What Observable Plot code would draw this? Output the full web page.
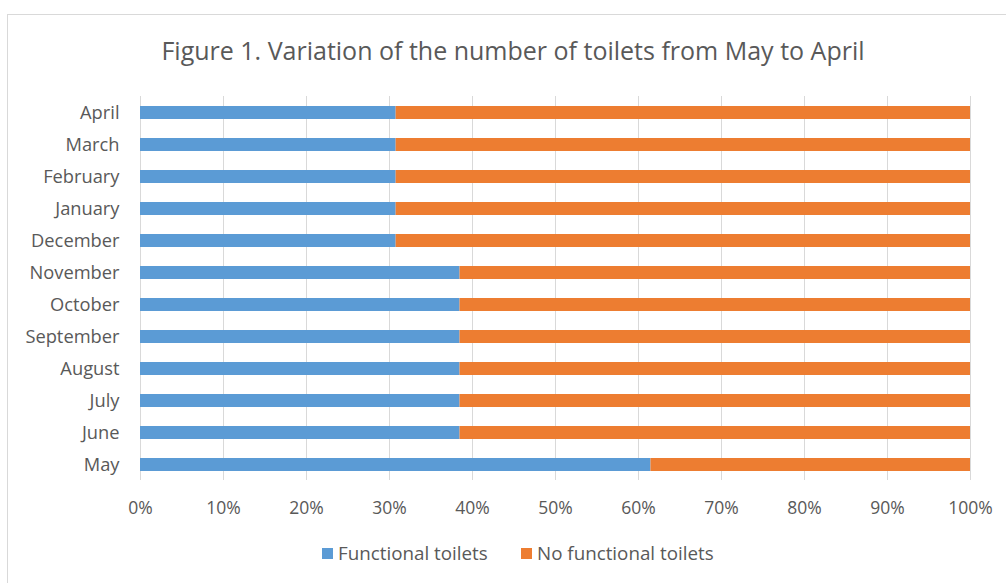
<!DOCTYPE html>
<html>
<head>
<meta charset="utf-8">
<script src="https://cdn.jsdelivr.net/npm/d3@7"></script>
<script src="https://cdn.jsdelivr.net/npm/@observablehq/plot@0.6"></script>
<style>
  body { margin: 0; background: #fff; }
  #wrap { position: relative; width: 1006px; height: 583px; overflow: hidden; font-family: "Open Sans", sans-serif; color: #595959; }
  #frame { position: absolute; left: 7px; top: 14px; width: 1010px; height: 600px; border: 1px solid #d9d9d9; box-sizing: border-box; }
  #title { position: absolute; left: 0; width: 1026px; top: 33px; text-align: center; font-size: 25px; color: #595959; }
  #chart { position: absolute; left: 0; top: 0; }
  .leg { position: absolute; top: 540px; font-size: 18.8px; display: flex; align-items: center; white-space: nowrap; }
  .sw { width: 11px; height: 11px; margin-right: 5px; }
</style>
</head>
<body>
<div id="wrap">
  <div id="frame"></div>
  <div id="title">Figure 1. Variation of the number of toilets from May to April</div>
  <div id="chart"></div>
  <div id="legend"></div>
</div>
<script>
const months = ["May", "June", "July", "August", "September", "October", "November", "December", "January", "February", "March", "April"];
const functionalPct = [61.5, 38.5, 38.5, 38.5, 38.5, 38.5, 38.5, 30.8, 30.8, 30.8, 30.8, 30.8];
const noFunctionalPct = [38.5, 61.5, 61.5, 61.5, 61.5, 61.5, 61.5, 69.2, 69.2, 69.2, 69.2, 69.2];
const seriesNames = ["Functional toilets", "No functional toilets"];
const seriesColors = ["#5B9BD5", "#ED7D31"];
const xTicks = [0, 10, 20, 30, 40, 50, 60, 70, 80, 90, 100];

const data = [];
months.forEach((m, i) => {
  data.push({month: m, series: seriesNames[0], value: functionalPct[i]});
  data.push({month: m, series: seriesNames[1], value: noFunctionalPct[i]});
});

const chart = Plot.plot({
  width: 1006,
  height: 530,
  marginTop: 96,
  marginBottom: 50,
  marginLeft: 140,
  marginRight: 36,
  style: {fontFamily: "Open Sans, sans-serif", fontSize: "16px", color: "#595959", background: "transparent"},
  x: {domain: [0, 100], ticks: xTicks, tickFormat: d => d + "%"},
  y: {domain: months.slice().reverse(), paddingInner: 0.6, paddingOuter: 0.3},
  color: {domain: seriesNames, range: seriesColors},
  marks: [
    Plot.gridX(xTicks, {stroke: "#d9d9d9", strokeOpacity: 1}),
    Plot.barX(data, {x: "value", y: "month", fill: "series", order: seriesNames}),
    Plot.axisX({ticks: xTicks, tickFormat: d => d + "%", tickSize: 0, tickPadding: 21, label: null, fill: "#595959", fontSize: 17.5}),
    Plot.axisY({tickSize: 0, tickPadding: 21, label: null, fill: "#595959", fontSize: 18.3})
  ]
});
document.getElementById("chart").appendChild(chart);

const legend = document.getElementById("legend");
const legPos = [322, 521];
seriesNames.forEach((name, i) => {
  const d = document.createElement("div");
  d.className = "leg";
  d.style.left = legPos[i] + "px";
  d.innerHTML = `<div class="sw" style="background:${seriesColors[i]}"></div><span>${name}</span>`;
  legend.appendChild(d);
});
</script>
</body>
</html>
